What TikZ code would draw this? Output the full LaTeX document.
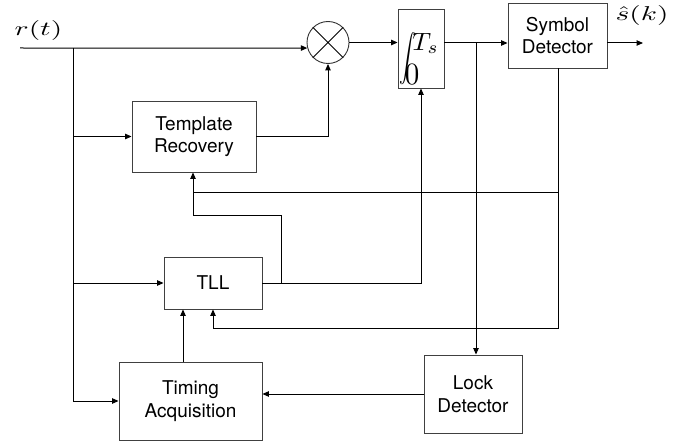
\documentclass[tikz,border=0pt]{standalone}
\usepackage{fontspec}
\usepackage{graphicx}
\usetikzlibrary{arrows.meta}
\newfontfamily\boxfont{TeX Gyre Heros}
\tikzset{
  blk/.style={draw=black!75, line width=0.9pt, rectangle, inner sep=0pt, align=center,
    font=\boxfont\fontsize{19}{22.5}\selectfont},
  conn/.style={draw=black, line width=1pt},
  arr/.style={conn, -{Triangle[length=6.5pt,width=5.5pt]}},
  lbl/.style={inner sep=0pt}
}
\begin{document}
\begin{tikzpicture}[x=1pt,y=-1pt]
\useasboundingbox (0,0) rectangle (686,444);
% blocks
\node[draw=black!80, line width=0.9pt, circle, minimum size=42pt, inner sep=0pt] (mult) at (328,42.5) {};
\draw[line width=0.8pt] (mult.45) -- (mult.225) (mult.135) -- (mult.315);
\node[blk, minimum width=124pt, minimum height=71pt] (tr) at (194,136.5) {Template\\Recovery};
\node[blk, minimum width=46pt, minimum height=79pt] (integ) at (421,48.5) {};
\node[lbl] (intsign) at (407.5,59) {\scalebox{1.7}[2.35]{$\displaystyle\int$}};
\node[lbl] (tlim) at (425.5,43.5) {\scalebox{2.6}[2.5]{$T_s$}};
\node[lbl] (zlim) at (412,75) {\scalebox{2.9}[3.1]{$0$}};
\node[blk, minimum width=99pt, minimum height=65pt] (sd) at (557.5,35.5) {Symbol\\Detector};
\node[blk, minimum width=98pt, minimum height=52pt] (tll) at (213,283) {TLL};
\node[blk, minimum width=143pt, minimum height=78pt] (ta) at (190.5,401) {Timing\\Acquisition};
\node[blk, minimum width=98pt, minimum height=78pt] (ld) at (473,394) {Lock\\Detector};
% labels
\node[lbl] (rt) at (38.5,31) {\scalebox{2.94}[2.0]{$r(t)$}};
\node[lbl] (sk) at (642,16) {\scalebox{2.94}[2.0]{$\hat{s}(k)$}};
% coordinates
\coordinate (in) at (20,48);
\coordinate (br) at (73,48);
\coordinate (out) at (643,43);
\coordinate (sdrow) at (476,43);
\coordinate (tllbr) at (281,283);
\coordinate (trin) at (193,215);
\coordinate (fb) at (558,328);
\coordinate (fbtr) at (558,192);
% connectors
\draw[arr] (in) -- (mult.195);
\draw[conn] (br) -- (br |- ta.west);
\draw[arr] (br |- tr.west) -- (tr.west);
\draw[arr] (br |- tll.west) -- (tll.west);
\draw[arr] (br |- ta.west) -- (ta.west);
\draw[arr] (tr.east) -| (mult.south);
\draw[arr] (mult.east) -- (mult.east -| integ.west);
\draw[arr] (integ.east |- out) -- (sd.west |- out);
\draw[arr] (sd.east |- out) -- (out);
\draw[arr] (sdrow) -- (ld.north -| sdrow);
\draw[arr] (tll.east) -| (integ.south);
\draw[arr] (tllbr) |- (trin) -- (trin |- tr.south);
\draw[arr] (sd.south -| fb) -- (fb) -| (tll.south);
\draw[conn] (fbtr) -- (trin |- fbtr);
\draw[arr] (ta.north -| 183,0) -- (tll.south -| 183,0);
\draw[arr] (ld.west) -- (ta.east |- ld.west);
\end{tikzpicture}
\end{document}
